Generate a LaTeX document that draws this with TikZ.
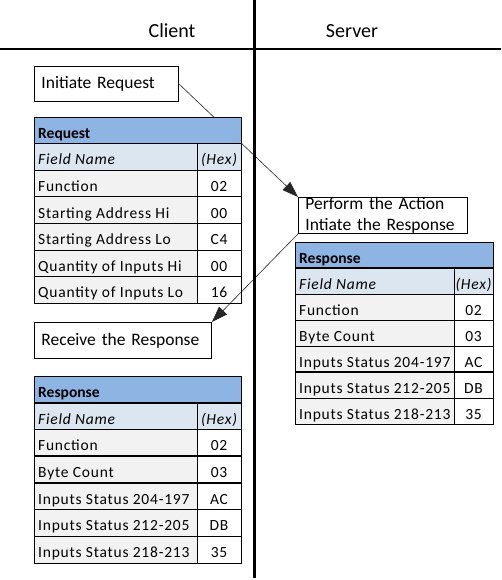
\documentclass[tikz,border=0pt]{standalone}
\usepackage{fontspec}
\setmainfont{Carlito}
\newfontfamily\cellfont[LetterSpace=5]{Carlito}
\usetikzlibrary{arrows.meta,backgrounds}
\definecolor{hdrblue}{HTML}{8DB4E2}
\definecolor{fldblue}{HTML}{DCE6F1}
\definecolor{rowgray}{HTML}{F2F2F2}
\tikzset{
 gridline/.style={draw=black,line width=0.8pt},
 celltxt/.style={inner sep=0pt,font=\cellfont\fontsize{15.5}{18}\selectfont},
 titletxt/.style={inner sep=0pt,font=\bfseries\fontsize{15.5}{18}\selectfont},
 note/.style={draw=black,line width=0.9pt,fill=white,inner ysep=0pt,inner xsep=7pt,
   align=left,font=\fontsize{17.5}{20.5}\selectfont,anchor=north west},
 conn/.style={draw=black!85,line width=0.6pt},
 tipend/.style={-{Triangle[length=16pt,width=11pt]}},
 lane/.style={draw=black,line cap=butt},
 lanetxt/.style={inner sep=0pt,font=\fontsize{20}{24}\selectfont},
}
% #1 name, #2 x0, #3 xsplit, #4 x1, #5 top, #6 row height, #7 title, #8 rows
\newcommand\drawtable[8]{%
 \fill[hdrblue] (#2,#5) rectangle (#4,#5+#6);
 \fill[fldblue] (#2,#5+#6) rectangle (#4,#5+2*#6);
 \node[titletxt,anchor=base west] (#1-title) at (#2+4,#5+0.5*#6+8) {#7};
 \node[celltxt,anchor=base west] (#1-fn) at (#2+4,#5+1.5*#6+8) {\itshape Field Name};
 \node[celltxt,anchor=base] (#1-hex) at ({(#3+#4)/2},#5+1.5*#6+8) {\itshape (Hex)};
 \foreach \lab/\val [count=\i from 2] in {#8} {
   \fill[rowgray] (#2,#5+\i*#6) rectangle (#3,#5+\i*#6+#6);
   \node[celltxt,anchor=base west] (#1-l\i) at (#2+4,#5+\i*#6+0.5*#6+8) {\lab};
   \node[celltxt,anchor=base] (#1-v\i) at ({(#3+#4)/2},#5+\i*#6+0.5*#6+8) {\val};
 }
 \foreach \k in {2,...,6} { \draw[gridline] (#2,#5+\k*#6) -- (#4,#5+\k*#6); }
 \draw[gridline] (#3,#5+#6) -- (#3,#5+7*#6);
 \draw[gridline] (#2,#5) rectangle (#4,#5+7*#6);
 \draw[line width=1.8pt] (#2,#5+#6) -- (#4,#5+#6);
}
\pgfdeclarelayer{back}
\pgfsetlayers{back,main}
\begin{document}
\begin{tikzpicture}[x=1pt,y=-1pt]
\useasboundingbox (0,0) rectangle (501,580);
% swim lanes
\draw[lane,line width=3pt] (254,0) -- (254,578);
\draw[lane,line width=2.4pt] (0,49) -- (501,49);
\node[lanetxt,anchor=base] (client) at (172,38) {Client};
\node[lanetxt,anchor=base] (server) at (352,38) {Server};
% notes
\node[note,minimum width=144pt,minimum height=35pt,text width=130pt] (ir) at (34,66) {Initiate Request};
\node[note,minimum width=169pt,minimum height=36pt,text width=155pt] (perf) at (298,197) {Perform the Action\\Intiate the Response};
\node[note,minimum width=177pt,minimum height=36pt,text width=163pt] (recv) at (34,322) {Receive the Response};
% tables
\drawtable{req}{34}{197}{241}{117}{26.6}{Request}{Function/02, Starting Address Hi/00, Starting Address Lo/C4, Quantity of Inputs Hi/00, Quantity of Inputs Lo/16}
\drawtable{srv}{295}{454}{493}{242}{26}{Response}{Function/02, Byte Count/03, Inputs Status 204-197/AC, Inputs Status 212-205/DB, Inputs Status 218-213/35}
\draw[line width=1.5pt] (295,242+5*26) -- (493,242+5*26);
\drawtable{cli}{34}{197}{241}{376}{26.7}{Response}{Function/02, Byte Count/03, Inputs Status 204-197/AC, Inputs Status 212-205/DB, Inputs Status 218-213/35}
\draw[line width=1.5pt] (34,376+3*26.7) -- (241,376+3*26.7);
\draw[line width=1.5pt] (34,376+4*26.7) -- (241,376+4*26.7);
% connectors (behind tables)
\begin{pgfonlayer}{back}
\fill[white] (0,0) rectangle (501,580);
\draw[conn,tipend] (ir.east) -- (perf.north west);
\draw[conn,tipend] (perf.south west) -- (recv.north east);
\end{pgfonlayer}
\end{tikzpicture}
\end{document}
